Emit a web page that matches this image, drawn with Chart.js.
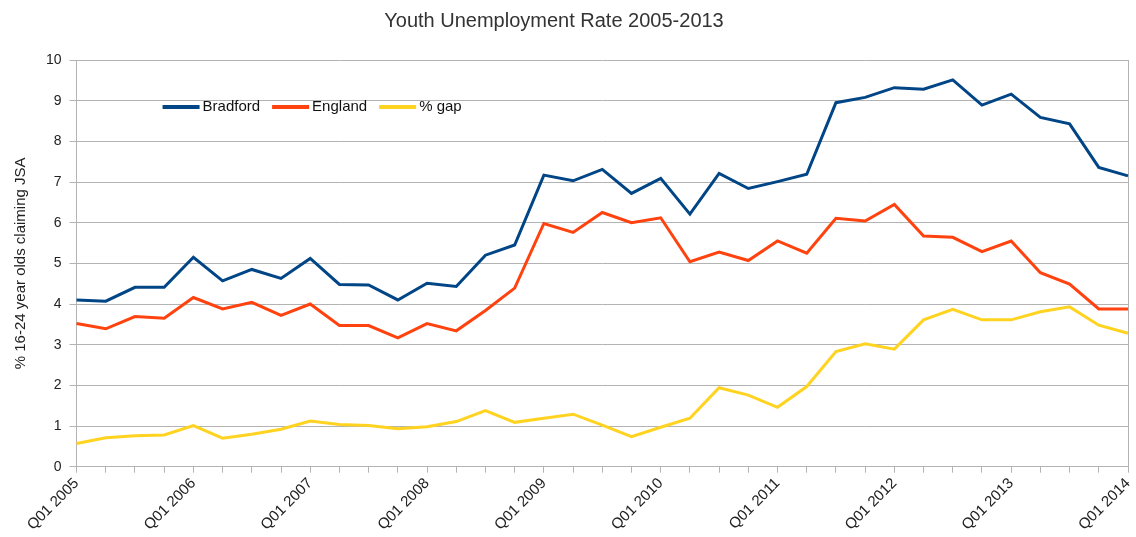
<!DOCTYPE html>
<html>
<head>
<meta charset="utf-8">
<title>Youth Unemployment Rate 2005-2013</title>
<script src="https://cdn.jsdelivr.net/npm/chart.js@4.4.0/dist/chart.umd.min.js"></script>
<style>
	html, body { margin: 0; padding: 0; background: #fff; }
	#chart-wrap { width: 1136px; height: 537px; }
</style>
</head>
<body>
<div id="chart-wrap"><canvas id="youth-chart"></canvas></div>
<script>
const quarters = [
	'Q01 2005', 'Q02 2005', 'Q03 2005', 'Q04 2005',
	'Q01 2006', 'Q02 2006', 'Q03 2006', 'Q04 2006',
	'Q01 2007', 'Q02 2007', 'Q03 2007', 'Q04 2007',
	'Q01 2008', 'Q02 2008', 'Q03 2008', 'Q04 2008',
	'Q01 2009', 'Q02 2009', 'Q03 2009', 'Q04 2009',
	'Q01 2010', 'Q02 2010', 'Q03 2010', 'Q04 2010',
	'Q01 2011', 'Q02 2011', 'Q03 2011', 'Q04 2011',
	'Q01 2012', 'Q02 2012', 'Q03 2012', 'Q04 2012',
	'Q01 2013', 'Q02 2013', 'Q03 2013', 'Q04 2013',
	'Q01 2014',
]
const bradford = [
	4.10, 4.07, 4.41, 4.41, 5.15, 4.57, 4.85, 4.63, 5.12, 4.48, 4.47, 4.10,
	4.51, 4.43, 5.20, 5.45, 7.17, 7.03, 7.31, 6.72, 7.09, 6.21, 7.21, 6.84,
	7.01, 7.19, 8.95, 9.08, 9.32, 9.28, 9.51, 8.89, 9.16, 8.59, 8.43, 7.36,
	7.15,
]
const england = [
	3.52, 3.39, 3.69, 3.65, 4.16, 3.88, 4.04, 3.72, 4.00, 3.47, 3.47, 3.17,
	3.52, 3.34, 3.84, 4.39, 5.98, 5.76, 6.25, 6.00, 6.12, 5.04, 5.28, 5.07,
	5.55, 5.25, 6.11, 6.04, 6.45, 5.67, 5.64, 5.29, 5.55, 4.77, 4.49, 3.88,
	3.88,
]
const gap = [
	0.57, 0.71, 0.76, 0.78, 1.01, 0.70, 0.80, 0.92, 1.12, 1.04, 1.01, 0.93,
	0.98, 1.11, 1.38, 1.09, 1.19, 1.29, 1.02, 0.74, 0.97, 1.19, 1.94, 1.76,
	1.46, 1.97, 2.83, 3.02, 2.89, 3.61, 3.87, 3.61, 3.61, 3.81, 3.93, 3.48,
	3.28,
]
const yTicks = [0, 1, 2, 3, 4, 5, 6, 7, 8, 9, 10]

const chartTitle = 'Youth Unemployment Rate 2005-2013'
const gridColor = '#b3b3b3'
const fontFamily = '"Liberation Sans", Arial, sans-serif'

// title a little left of centre, legend inside the plot under the top gridlines
const titleAndLegend = {
	id: 'titleAndLegend',
	afterDatasetsDraw(chart) {
		const ctx = chart.ctx
		const area = chart.chartArea
		ctx.save()
		ctx.textBaseline = 'middle'

		ctx.font = '20px ' + fontFamily
		ctx.fillStyle = '#333'
		ctx.textAlign = 'center'
		ctx.fillText(chartTitle, chart.width / 2 - 14, 21)

		ctx.font = '15px ' + fontFamily
		ctx.textAlign = 'left'
		let x = area.left + 86
		const y = area.top + 47
		chart.data.datasets.forEach(ds => {
			ctx.strokeStyle = ds.borderColor
			ctx.lineWidth = 4
			ctx.beginPath()
			ctx.moveTo(x, y)
			ctx.lineTo(x + 37, y)
			ctx.stroke()
			x += 40
			ctx.fillStyle = '#111'
			ctx.fillText(ds.label, x, y)
			x += ctx.measureText(ds.label).width + 12
		})
		ctx.restore()
	},
}

function drawYouthChart() {
	const canvas = document.getElementById('youth-chart')
	new Chart(canvas, {
		type: 'line',
		data: {
			labels: quarters,
			datasets: [
				{ label: 'Bradford', data: bradford, borderColor: '#004586', backgroundColor: '#004586' },
				{ label: 'England', data: england, borderColor: '#ff420e', backgroundColor: '#ff420e' },
				{ label: '% gap', data: gap, borderColor: '#ffd320', backgroundColor: '#ffd320' },
			],
		},
		options: {
			responsive: true,
			maintainAspectRatio: false,
			animation: false,
			layout: { padding: { top: 60, right: 8, bottom: 1, left: 12 } },
			elements: {
				line: { borderWidth: 3, tension: 0 },
				point: { radius: 0 },
			},
			plugins: {
				legend: { display: false },
				tooltip: { enabled: false },
				title: { display: false },
			},
			scales: {
				x: {
					type: 'category',
					offset: false,
					// last label is right-aligned on its tick, no room needed past it
					afterFit: scale => {
						scale.paddingRight = 0
					},
					grid: {
						drawOnChartArea: true,
						color: c => (c.index === quarters.length - 1 ? gridColor : 'rgba(0,0,0,0)'),
						tickColor: gridColor,
						tickLength: 6,
					},
					border: { color: gridColor },
					ticks: {
						autoSkip: false,
						minRotation: 45,
						maxRotation: 45,
						padding: 2,
						color: '#222',
						font: { family: fontFamily, size: 15 },
						callback(value, index) {
							return index % 4 === 0 ? this.getLabelForValue(value) : ''
						},
					},
				},
				y: {
					min: yTicks[0],
					max: yTicks[yTicks.length - 1],
					afterBuildTicks: axis => {
						axis.ticks = yTicks.map(v => ({ value: v }))
					},
					grid: { color: gridColor, tickColor: gridColor, tickLength: 7 },
					border: { color: gridColor },
					ticks: {
						padding: 8,
						color: '#222',
						font: { family: fontFamily, size: 14 },
					},
					title: {
						display: true,
						text: '% 16-24 year olds claiming JSA',
						color: '#222',
						font: { family: fontFamily, size: 15 },
						padding: { top: 0, bottom: 8 },
					},
				},
			},
		},
		plugins: [titleAndLegend],
	})
}
drawYouthChart()
</script>
</body>
</html>
